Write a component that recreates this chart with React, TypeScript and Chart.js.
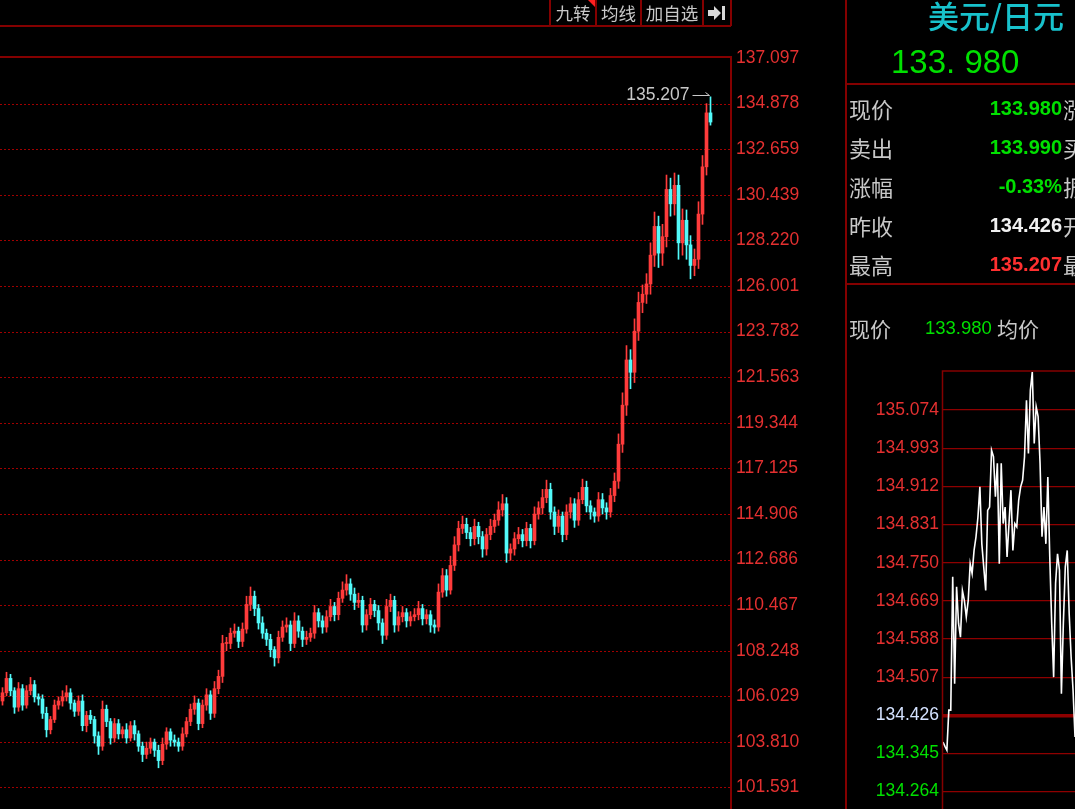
import { useEffect, useRef } from "react";
import { Chart, registerables } from "chart.js";

Chart.register(...registerables);

// ---- Daily USD/JPY candles (oldest first). Each open is the prior close. ----
const firstOpen = 105.8;
const closes = [
  106.2, 106.9, 106.3, 105.5, 106.4, 105.6, 106.3, 106.6, 106.0, 105.9,
  105.2, 104.4, 104.9, 105.6, 105.8, 106.0, 106.2, 105.7, 105.3, 105.8,
  104.6, 105.1, 104.9, 104.1, 103.6, 105.4, 104.8, 104.0, 104.7, 104.2,
  104.4, 104.0, 104.6, 104.2, 103.6, 103.2, 103.5, 103.8, 103.4, 102.9,
  103.7, 104.3, 103.9, 103.8, 103.6, 104.2, 104.8, 105.4, 105.7, 104.7,
  105.6, 106.1, 105.2, 106.4, 107.0, 108.6, 108.6, 109.1, 109.2, 108.7,
  109.3, 110.5, 110.9, 110.3, 109.6, 109.1, 108.8, 108.3, 107.9, 108.9,
  109.4, 109.5, 108.6, 109.7, 109.2, 108.8, 108.9, 109.1, 110.1, 109.7,
  109.4, 109.9, 110.4, 110.0, 110.8, 111.2, 111.5, 111.0, 110.6, 110.7,
  109.5, 110.0, 110.5, 110.2, 109.6, 109.0, 110.4, 110.7, 109.5, 109.9,
  110.1, 109.7, 109.9, 110.0, 110.3, 109.8, 110.0, 109.5, 109.4, 111.1,
  111.9, 111.2, 112.4, 113.4, 114.2, 114.4, 114.0, 113.7, 114.3, 113.8,
  113.2, 113.9, 114.3, 114.6, 115.1, 115.4, 113.0, 113.2, 113.7, 113.9,
  113.6, 114.2, 113.6, 114.9, 115.2, 115.7, 116.1, 115.0, 114.3, 114.8,
  113.9, 115.0, 115.4, 114.6, 115.6, 116.2, 115.3, 115.0, 114.8, 115.6,
  115.2, 115.0, 115.8, 116.5, 118.3, 120.2, 122.4, 121.8, 123.8, 125.2,
  125.6, 126.1, 127.5, 128.9, 127.6, 128.4, 130.7, 130.0, 130.9, 128.1,
  129.2, 128.0, 127.0, 127.3, 129.5, 131.8, 134.426, 133.98,
];
// Upper / lower shadow lengths of each candle
const upperWicks = [
  0.25, 0.3, 0.2, 0.15, 0.3, 0.2, 0.25, 0.35, 0.2, 0.15,
  0.2, 0.3, 0.15, 0.25, 0.2, 0.3, 0.35, 0.2, 0.15, 0.25,
  0.3, 0.2, 0.25, 0.15, 0.2, 0.4, 0.2, 0.15, 0.25, 0.2,
  0.15, 0.3, 0.2, 0.25, 0.15, 0.2, 0.3, 0.2, 0.15, 0.25,
  0.3, 0.2, 0.15, 0.25, 0.2, 0.3, 0.2, 0.25, 0.35, 0.2,
  0.25, 0.3, 0.2, 0.35, 0.3, 0.4, 0.3, 0.25, 0.35, 0.2,
  0.3, 0.4, 0.45, 0.25, 0.2, 0.3, 0.2, 0.25, 0.15, 0.3,
  0.3, 0.35, 0.2, 0.4, 0.25, 0.2, 0.3, 0.25, 0.35, 0.2,
  0.25, 0.3, 0.35, 0.2, 0.3, 0.4, 0.45, 0.25, 0.3, 0.35,
  0.2, 0.25, 0.3, 0.2, 0.25, 0.2, 0.35, 0.3, 0.2, 0.25,
  0.3, 0.2, 0.25, 0.3, 0.35, 0.2, 0.25, 0.2, 0.25, 0.4,
  0.35, 0.3, 0.45, 0.4, 0.35, 0.4, 0.3, 0.25, 0.35, 0.2,
  0.25, 0.3, 0.35, 0.3, 0.4, 0.45, 0.3, 0.25, 0.3, 0.35,
  0.25, 0.3, 0.2, 0.35, 0.3, 0.4, 0.45, 0.3, 0.25, 0.3,
  0.2, 0.35, 0.3, 0.25, 0.35, 0.4, 0.3, 0.25, 0.2, 0.35,
  0.3, 0.25, 0.35, 0.4, 0.5, 0.6, 0.7, 0.5, 0.6, 0.5,
  0.45, 0.5, 0.6, 0.7, 0.5, 0.6, 0.7, 0.55, 0.6, 0.5,
  0.55, 0.5, 0.45, 0.5, 0.6, 0.55, 0.45, 0.781,
];
const lowerWicks = [
  0.2, 0.15, 0.25, 0.3, 0.2, 0.25, 0.15, 0.2, 0.25, 0.3,
  0.25, 0.35, 0.2, 0.15, 0.2, 0.25, 0.2, 0.3, 0.25, 0.2,
  0.25, 0.3, 0.2, 0.35, 0.4, 0.2, 0.25, 0.3, 0.2, 0.25,
  0.2, 0.25, 0.15, 0.3, 0.25, 0.35, 0.2, 0.25, 0.3, 0.35,
  0.2, 0.25, 0.3, 0.2, 0.25, 0.2, 0.15, 0.2, 0.25, 0.3,
  0.2, 0.25, 0.3, 0.2, 0.25, 0.3, 0.35, 0.25, 0.2, 0.3,
  0.25, 0.2, 0.3, 0.35, 0.3, 0.25, 0.3, 0.35, 0.4, 0.25,
  0.2, 0.25, 0.35, 0.2, 0.3, 0.35, 0.25, 0.2, 0.25, 0.3,
  0.3, 0.25, 0.2, 0.3, 0.25, 0.2, 0.25, 0.3, 0.35, 0.25,
  0.35, 0.25, 0.2, 0.3, 0.35, 0.4, 0.2, 0.25, 0.35, 0.3,
  0.25, 0.3, 0.25, 0.2, 0.25, 0.3, 0.25, 0.35, 0.3, 0.2,
  0.25, 0.3, 0.2, 0.25, 0.3, 0.25, 0.3, 0.35, 0.3, 0.35,
  0.4, 0.3, 0.25, 0.3, 0.25, 0.3, 0.45, 0.35, 0.3, 0.25,
  0.3, 0.25, 0.35, 0.2, 0.25, 0.3, 0.25, 0.35, 0.4, 0.3,
  0.35, 0.25, 0.3, 0.35, 0.25, 0.2, 0.3, 0.35, 0.3, 0.25,
  0.3, 0.35, 0.25, 0.3, 0.35, 0.4, 0.5, 0.8, 0.5, 0.45,
  0.5, 0.45, 0.5, 0.55, 0.7, 0.6, 0.5, 0.6, 0.55, 0.8,
  0.6, 0.7, 0.65, 0.5, 0.45, 0.5, 0.4, 0.15,
];

// Right-hand price axis of the daily chart
const priceTicks = [
  137.097, 134.878, 132.659, 130.439, 128.22, 126.001, 123.782, 121.563, 119.344,
  117.125, 114.906, 112.686, 110.467, 108.248, 106.029, 103.81, 101.591,
];
const priceMin = 100.544;
const emptySlotsRight = 5;

// Intraday minute line and its axis
const prevClose = 134.426;
const intradayTicks = [
  135.074, 134.993, 134.912, 134.831, 134.75, 134.669, 134.588, 134.507, 134.426, 134.345, 134.264,
];
const intradayMin = 134.227;
const intradayMax = 135.157;
const intradayPrices = [
  134.369, 134.36, 134.352, 134.437, 134.437, 134.72, 134.493, 134.699, 134.621, 134.592,
  134.691, 134.67, 134.635, 134.67, 134.748, 134.727, 134.776, 134.805, 134.847, 134.911,
  134.79, 134.74, 134.691, 134.861, 134.868, 134.989, 134.975, 134.89, 134.961, 134.748,
  134.961, 134.833, 134.868, 134.762, 134.833, 134.904, 134.776, 134.833, 134.826, 134.883,
  134.911, 134.925, 134.975, 135.095, 134.982, 135.116, 135.155, 135.003, 135.081, 135.06,
  134.961, 134.805, 134.868, 134.79, 134.932, 134.762, 134.621, 134.507, 134.706, 134.769,
  134.734, 134.472, 134.621, 134.741, 134.776, 134.642, 134.55, 134.479, 134.38,
];

// Quote panel
const quoteTitle = "美元/日元";
const lastPrice = "133. 980";
const quoteLabels = ["现价", "卖出", "涨幅", "昨收", "最高"];
const quoteValues = ["133.980", "133.990", "-0.33%", "134.426", "135.207"];
const quoteTones = ["down", "down", "down", "flat", "up"];
const quoteNextLabels = ["涨跌", "买入", "振幅", "开盘", "最低"];
const toolbarButtons = ["九转", "均线", "加自选"];

const UP = "#ff3b3b";
const DOWN = "#52fafa";
const AXIS_RED = "#e43030";
const FRAME = "#840000";
const DOT = "#a00000";
const GREEN = "#00e000";
const GREY = "#c8c8c8";
const SANS = '"Liberation Sans", Arial, sans-serif';
const CJK = '"Noto Sans CJK SC", "Noto Sans", sans-serif';

const toneColor = (t: string) => (t === "up" ? "#ff3030" : t === "down" ? GREEN : "#f0f0f0");

// Keep the axis from reserving half a label of room above and below the plot
const trimAxis = (width: number) => (s: any) => {
  s.width = width;
  s.paddingTop = 0;
  s.paddingBottom = 0;
};

function DailyChart() {
  const ref = useRef<HTMLCanvasElement | null>(null);
  useEffect(() => {
    const canvas = ref.current;
    if (!canvas) return;
    const opens = closes.map((_, i) => (i === 0 ? firstOpen : closes[i - 1]));
    const highs = closes.map((c, i) => Math.max(opens[i], c) + upperWicks[i]);
    const lows = closes.map((c, i) => Math.min(opens[i], c) - lowerWicks[i]);
    const colors = closes.map((c, i) => (c >= opens[i] ? UP : DOWN));

    const framePlugin = {
      id: "dailyFrame",
      beforeDatasetsDraw(chart: any) {
        const { ctx, chartArea: a, scales } = chart;
        const y = scales.y;
        ctx.save();
        ctx.strokeStyle = DOT;
        ctx.lineWidth = 1;
        ctx.setLineDash([2, 2]);
        priceTicks.slice(1).forEach((v) => {
          const py = Math.round(y.getPixelForValue(v)) + 0.5;
          ctx.beginPath();
          ctx.moveTo(a.left, py);
          ctx.lineTo(a.right - 2, py);
          ctx.stroke();
        });
        ctx.setLineDash([]);
        ctx.strokeStyle = FRAME;
        ctx.lineWidth = 2;
        ctx.beginPath();
        ctx.moveTo(0, a.top - 1);
        ctx.lineTo(a.right, a.top - 1);
        ctx.moveTo(a.right - 1, a.top - 1);
        ctx.lineTo(a.right - 1, a.bottom);
        ctx.stroke();
        ctx.restore();
      },
      afterDatasetsDraw(chart: any) {
        const { ctx, scales } = chart;
        let top = 0;
        highs.forEach((h, i) => {
          if (h > highs[top]) top = i;
        });
        const px = scales.x.getPixelForValue(top);
        const py = Math.round(scales.y.getPixelForValue(highs[top])) - 1.5;
        ctx.save();
        ctx.fillStyle = GREY;
        ctx.strokeStyle = GREY;
        ctx.font = `17.5px ${SANS}`;
        ctx.textAlign = "right";
        ctx.textBaseline = "middle";
        ctx.fillText(highs[top].toFixed(3), px - 21, py);
        ctx.lineWidth = 1;
        ctx.beginPath();
        ctx.moveTo(px - 18, py);
        ctx.lineTo(px - 1, py);
        ctx.moveTo(px - 5, py - 3);
        ctx.lineTo(px - 1, py);
        ctx.stroke();
        ctx.restore();
      },
    };

    const chart = new Chart(canvas, {
      type: "bar",
      data: {
        datasets: [
          {
            data: closes.map((c, i) => ({ x: i, y: [opens[i], c] })) as any,
            backgroundColor: colors,
            barThickness: 3,
            minBarLength: 1,
            borderWidth: 0,
            grouped: false,
            order: 1,
          },
          {
            data: closes.map((_, i) => ({ x: i, y: [lows[i], highs[i]] })) as any,
            backgroundColor: colors,
            barThickness: 1,
            borderWidth: 0,
            grouped: false,
            order: 2,
          },
        ],
      },
      options: {
        animation: false,
        responsive: false,
        events: [],
        layout: { padding: { top: 58, left: 0, right: 0, bottom: 0 } },
        plugins: { legend: { display: false }, tooltip: { enabled: false } },
        scales: {
          x: {
            type: "linear",
            display: false,
            offset: false,
            min: -0.625,
            max: closes.length - 1 + emptySlotsRight + 0.375,
          },
          y: {
            position: "right",
            min: priceMin,
            max: priceTicks[0],
            afterBuildTicks: (s: any) => {
              s.ticks = priceTicks.map((v) => ({ value: v }));
            },
            afterFit: trimAxis(114),
            grid: { display: false, drawTicks: false },
            border: { display: false },
            ticks: {
              color: AXIS_RED,
              autoSkip: false,
              padding: 4,
              font: { family: SANS, size: 17.5 },
              callback: (v: any) => Number(v).toFixed(3),
            },
          },
        },
      },
      plugins: [framePlugin],
    } as any);
    return () => chart.destroy();
  }, []);
  return (
    <canvas
      ref={ref}
      width={846}
      height={809}
      style={{ position: "absolute", left: 0, top: 0, width: 846, height: 809 }}
    />
  );
}

function IntradayChart() {
  const ref = useRef<HTMLCanvasElement | null>(null);
  useEffect(() => {
    const canvas = ref.current;
    if (!canvas) return;
    const borderPlugin = {
      id: "intradayBorder",
      afterDraw(chart: any) {
        const { ctx, chartArea: a } = chart;
        ctx.save();
        ctx.strokeStyle = FRAME;
        ctx.lineWidth = 1.5;
        ctx.beginPath();
        ctx.moveTo(a.left - 0.5, chart.height);
        ctx.lineTo(a.left - 0.5, a.top);
        ctx.lineTo(chart.width, a.top);
        ctx.stroke();
        ctx.restore();
      },
    };
    const chart = new Chart(canvas, {
      type: "line",
      data: {
        datasets: [
          {
            data: intradayPrices.map((v, i) => ({ x: i, y: v })),
            borderColor: "#ffffff",
            borderWidth: 1.6,
            pointRadius: 0,
            tension: 0,
          },
        ],
      },
      options: {
        animation: false,
        responsive: false,
        events: [],
        layout: { padding: { top: 81, left: 0, right: 0, bottom: 0 } },
        plugins: { legend: { display: false }, tooltip: { enabled: false } },
        scales: {
          x: { type: "linear", display: false, min: 0, max: intradayPrices.length - 1 },
          y: {
            position: "left",
            min: intradayMin,
            max: intradayMax,
            afterBuildTicks: (s: any) => {
              s.ticks = intradayTicks.map((v) => ({ value: v }));
            },
            afterFit: trimAxis(98),
            grid: {
              color: "#8e0000",
              drawTicks: false,
              lineWidth: (c: any) => (c.tick && c.tick.value === prevClose ? 3.5 : 1.2),
            },
            border: { display: false },
            ticks: {
              autoSkip: false,
              padding: 4,
              font: { family: SANS, size: 17.5 },
              color: (c: any) =>
                c.tick.value > prevClose ? AXIS_RED : c.tick.value < prevClose ? GREEN : "#d4e2ff",
              callback: (v: any) => Number(v).toFixed(3),
            },
          },
        },
      },
      plugins: [borderPlugin],
    } as any);
    return () => chart.destroy();
  }, []);
  return (
    <canvas
      ref={ref}
      width={230}
      height={519}
      style={{ position: "absolute", left: 845, top: 290, width: 230, height: 519 }}
    />
  );
}

function Toolbar() {
  const edges = [549, 595, 640, 702, 730];
  return (
    <>
      <div style={{ position: "absolute", left: 0, top: 25, width: 731, height: 2, background: FRAME }} />
      {edges.map((x) => (
        <div key={x} style={{ position: "absolute", left: x, top: 0, width: 2, height: 26, background: FRAME }} />
      ))}
      {toolbarButtons.map((t, i) => (
        <div
          key={t}
          style={{
            position: "absolute",
            left: edges[i] + 2,
            top: 0,
            width: edges[i + 1] - edges[i] - 2,
            height: 25,
            lineHeight: "25px",
            textAlign: "center",
            fontFamily: CJK,
            fontSize: 17.5,
            color: GREY,
          }}
        >
          {t}
        </div>
      ))}
      <div
        style={{
          position: "absolute",
          left: 588,
          top: 0,
          width: 0,
          height: 0,
          borderTop: "7px solid #ff2020",
          borderLeft: "7px solid transparent",
        }}
      />
      <svg style={{ position: "absolute", left: 707, top: 4 }} width={20} height={18} viewBox="0 0 20 18">
        <polygon points="1,6 7,6 7,2 14,9 7,16 7,12 1,12" fill="#d8d8d8" />
        <rect x={15} y={2} width={3} height={14} fill="#d8d8d8" />
      </svg>
    </>
  );
}

function QuotePanel() {
  const rowY = [108, 147, 186, 225, 264];
  return (
    <>
      <div style={{ position: "absolute", left: 845, top: 0, width: 2, height: 809, background: FRAME }} />
      <div
        style={{
          position: "absolute",
          left: 928,
          top: -3,
          lineHeight: "36px",
          fontFamily: CJK,
          fontSize: 31,
          fontWeight: 500,
          color: "#18c2cc",
          whiteSpace: "nowrap",
        }}
      >
        {quoteTitle}
      </div>
      <div
        style={{
          position: "absolute",
          left: 891,
          top: 44,
          lineHeight: "36px",
          fontFamily: SANS,
          fontSize: 33,
          color: GREEN,
          whiteSpace: "pre",
        }}
      >
        {lastPrice}
      </div>
      <div style={{ position: "absolute", left: 846, top: 83, width: 229, height: 2, background: FRAME }} />
      {quoteLabels.map((label, i) => (
        <div key={label}>
          <div
            style={{
              position: "absolute",
              left: 849,
              top: rowY[i] - 15,
              lineHeight: "30px",
              fontFamily: CJK,
              fontSize: 22,
              color: GREY,
              whiteSpace: "nowrap",
            }}
          >
            {label}
          </div>
          <div
            style={{
              position: "absolute",
              left: 940,
              width: 122,
              top: rowY[i] - 15,
              lineHeight: "30px",
              textAlign: "right",
              fontFamily: SANS,
              fontWeight: 700,
              fontSize: 20,
              color: toneColor(quoteTones[i]),
            }}
          >
            {quoteValues[i]}
          </div>
          <div
            style={{
              position: "absolute",
              left: 1063,
              top: rowY[i] - 15,
              lineHeight: "30px",
              fontFamily: CJK,
              fontSize: 22,
              color: GREY,
              whiteSpace: "nowrap",
            }}
          >
            {quoteNextLabels[i]}
          </div>
        </div>
      ))}
      <div style={{ position: "absolute", left: 846, top: 283, width: 229, height: 2, background: FRAME }} />
      <div
        style={{
          position: "absolute",
          left: 849,
          top: 313,
          lineHeight: "30px",
          fontFamily: CJK,
          fontSize: 21,
          color: GREY,
        }}
      >
        现价
      </div>
      <div
        style={{
          position: "absolute",
          left: 925,
          top: 313,
          lineHeight: "30px",
          fontFamily: SANS,
          fontSize: 18.5,
          color: GREEN,
        }}
      >
        {quoteValues[0]}
      </div>
      <div
        style={{
          position: "absolute",
          left: 997,
          top: 313,
          lineHeight: "30px",
          fontFamily: CJK,
          fontSize: 21,
          color: GREY,
        }}
      >
        均价
      </div>
    </>
  );
}

export default function App() {
  return (
    <div
      style={{
        position: "fixed",
        left: 0,
        top: 0,
        width: 1075,
        height: 809,
        background: "#000",
        overflow: "hidden",
      }}
    >
      <DailyChart />
      <IntradayChart />
      <Toolbar />
      <QuotePanel />
    </div>
  );
}
